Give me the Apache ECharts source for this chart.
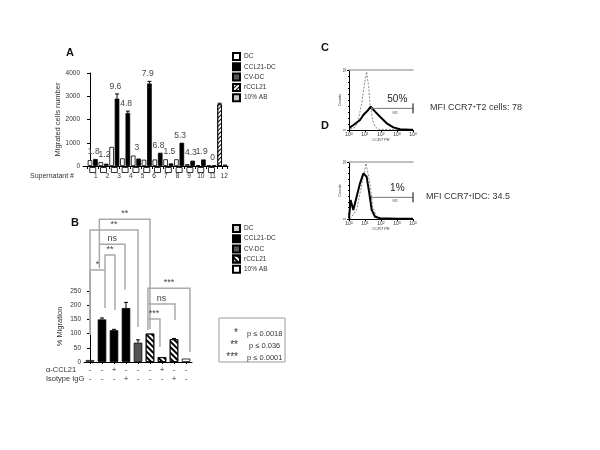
<!DOCTYPE html>
<html><head><meta charset="utf-8">
<script src="https://cdn.jsdelivr.net/npm/echarts@6/dist/echarts.min.js"></script>
<style>html,body{margin:0;padding:0;background:#fff}#c{width:600px;height:450px}</style>
</head><body><div id="c"></div>
<script>
// ---------- Panel A data ----------
const supernatants = ['1','2','3','4','5','6','7','8','9','10','11','12'];
const dcA = [250,170,820,330,450,270,280,290,290,80,30,20];
const ccl21dcA = [300,100,2900,2280,320,3550,570,110,1000,230,280,30];
const ccl21dcErrA = [0,0,200,80,0,90,0,0,0,0,0,0];
const rccl21A = [2650];
const rccl21ErrA = [50];
const abA = [60];
const foldA = ['1.8','1.2','9.6','4.8','3','7.9','6.8','1.5','5.3','4.3','1.9','0'];
const yTicksA = [0,1000,2000,3000,4000];
const legendNames = ['DC','CCL21-DC','CV-DC','rCCL21','10% AB'];

// ---------- Panel B data ----------
const typeB = ['DC','CCL21-DC','CCL21-DC','CCL21-DC','CV-DC','rCCL21','rCCL21','rCCL21','10% AB'];
const migrationB = [7,150,112,190,68,100,17,80,12];
const migrationErrB = [0,5,3,20,10,0,0,3,0];
const antiCCL21 = ['-','-','+','-','-','-','+','-','-'];
const isotypeIgG = ['-','-','-','+','-','-','-','+','-'];
// brackets: [fromBar, toBar, topValue, leftLegBottom, rightLegBottom]
const bracketsB = [
  [0.78,5.0,503,330,115],
  [0.0,4.0,465,95,123],
  [0.78,2.92,415,415,254],
  [1.25,2.08,377,324,183],
  [0.0,1.25,324,95,190],
  [4.83,8.33,260,113,35],
  [4.83,7.08,204,204,148],
  [4.83,5.83,151,151,53]
];
const bracketLabelsB = ['**','**','ns','**','*','***','ns','***'];
const pStars = ['*','**','***'];
const pValues = ['p \u2264 0.0018','p \u2264 0.036','p \u2264 0.0001'];

// ---------- Panels C / D data (fluorescence, counts) ----------
const isoC = [[1.15,0.6],[2.4,2.2],[3.8,8.3],[6.2,22],[8.7,36],[12.6,48.6],[17,36],[20.4,22],[30,8.3],[42.7,2.8],[67.6,0.6],[10000,0.3]];
const ccr7C = [[1.1,2],[1.9,4.2],[4.9,8.3],[7.9,12.5],[15.8,16.7],[22.9,19.4],[42.7,15.3],[87,11.1],[229,5.6],[589,2.2],[1549,0.6],[6310,0.3],[10000,0.2]];
const isoD = [[1.15,0],[3.0,7.9],[4.9,22.5],[7.9,37.1],[11.5,48.9],[14.1,50],[20.4,31.3],[30.2,10.8],[53.7,1.5],[110,0],[10000,0]];
const ccr7D = [[1.0,0.5],[1.26,16.7],[1.86,7.9],[3.0,19.6],[4.9,31.3],[7.9,40],[10,41.5],[12.6,37.1],[18.6,22.5],[26.3,7.9],[42.7,2],[87,0.6],[1000,0.3],[10000,0.2]];
const gateC = [26,10000,18];
const gateD = [26,10000,19];
const pctC = '50%';
const pctD = '1%';

// ---------- build ----------
const F = 'Liberation Sans, Arial, sans-serif';
const TXT = '#333';
const hatchA = {symbol:'rect', symbolSize:1, dashArrayX:[1,0], dashArrayY:[1,1.2], rotation:-Math.PI/4, color:'#000'};
const hatchB = {symbol:'rect', symbolSize:1, dashArrayX:[1,0], dashArrayY:[1.2,1.8], rotation:Math.PI/4, color:'#000'};
const colorsA = {'DC':'#fff','CCL21-DC':'#000','CV-DC':'#555','rCCL21':'#fff','10% AB':'#c8c8c8'};
const colorsB = {'DC':'#d0d0d0','CCL21-DC':'#000','CV-DC':'#555','rCCL21':'#fff','10% AB':'#fff'};

const slotA = {
  'DC': dcA.map((v,i)=>[2*i, v]),
  'CCL21-DC': ccl21dcA.map((v,i)=>[2*i+1, v]),
  'CV-DC': [],
  'rCCL21': rccl21A.map(v=>[24, v]),
  '10% AB': abA.map(v=>[25, v])
};
const errA = [];
ccl21dcA.forEach((v,i)=>{ if (ccl21dcErrA[i]) errA.push([2*i+1, v, ccl21dcErrA[i]]); });
rccl21A.forEach((v,i)=>{ if (rccl21ErrA[i]) errA.push([24, v, rccl21ErrA[i]]); });
const foldData = foldA.map((t,i)=>[2*i+0.5, Math.max(dcA[i], ccl21dcA[i]+ccl21dcErrA[i])]);
const errB = migrationB.map((v,i)=>[i, v, migrationErrB[i]]).filter(d=>d[2]>0);

function errRender(params, api){
  const x = api.value(0), v = api.value(1), e = api.value(2);
  const p0 = api.coord([x, v]), p1 = api.coord([x, v+e]);
  return {type:'group', children:[
    {type:'line', shape:{x1:p0[0],y1:p0[1],x2:p1[0],y2:p1[1]}, style:{stroke:'#000', lineWidth:1}},
    {type:'line', shape:{x1:p1[0]-2,y1:p1[1],x2:p1[0]+2,y2:p1[1]}, style:{stroke:'#000', lineWidth:1}}
  ]};
}

const series = [];
legendNames.forEach(n=>{
  series.push({
    name:n, type:'bar', xAxisIndex:0, yAxisIndex:0, barWidth:4.6, barGap:'-100%',
    data: slotA[n],
    itemStyle:{color:colorsA[n], borderColor:'#000', borderWidth:0.8, decal: n==='rCCL21'?hatchA:null},
    silent:true
  });
});
series.push({type:'custom', xAxisIndex:0, yAxisIndex:0, data:errA, renderItem:errRender, z:5, silent:true});
series.push({type:'custom', xAxisIndex:0, yAxisIndex:0, data:foldData, z:5, silent:true,
  renderItem(params, api){
    const x = api.value(0), top = api.value(1);
    const p = api.coord([x, top]);
    const b = api.coord([x, 0]);
    return {type:'group', children:[
      {type:'text', x:p[0]+1, y:p[1]-3, style:{text:foldA[params.dataIndex], fontSize:8.5, fontFamily:F, fill:'#444', align:'center', verticalAlign:'bottom'}},
      {type:'rect', shape:{x:b[0]-3, y:b[1]+1.5, width:6, height:5}, style:{fill:'#fff', stroke:'#000', lineWidth:0.8}}
    ]};
  }});

legendNames.forEach(n=>{
  series.push({
    name:'B:'+n, type:'bar', xAxisIndex:2, yAxisIndex:2, barWidth:8.5, barGap:'-100%',
    data: migrationB.map((v,i)=> typeB[i]===n ? [i, v] : null).filter(d=>d),
    itemStyle:{color:colorsB[n], borderColor:'#000', borderWidth:0.8, decal: n==='rCCL21'?hatchB:null},
    silent:true
  });
});
series.push({type:'custom', xAxisIndex:2, yAxisIndex:2, data:errB, renderItem:errRender, z:5, silent:true});
series.push({type:'custom', xAxisIndex:2, yAxisIndex:2, data:bracketsB, z:5, silent:true,
  renderItem(params, api){
    const x1=api.value(0), x2=api.value(1), top=api.value(2), lb=api.value(3), rb=api.value(4);
    const a=api.coord([x1,lb]), b=api.coord([x1,top]), c=api.coord([x2,top]), d=api.coord([x2,rb]);
    return {type:'group', children:[
      {type:'polyline', shape:{points:[a,b,c,d]}, style:{stroke:'#aaa', lineWidth:1.5, fill:'none'}},
      {type:'text', x:(b[0]+c[0])/2, y:b[1]-1, style:{text:bracketLabelsB[params.dataIndex], fontSize:9, fontFamily:F, fill:'#444', align:'center', verticalAlign:'bottom'}}
    ]};
  }});

function gateRender(pct){
  return function(params, api){
    const x1=api.value(0), x2=api.value(1), y=api.value(2);
    const a=api.coord([x1,y]), b=api.coord([x2,y]);
    return {type:'group', children:[
      {type:'line', shape:{x1:a[0],y1:a[1],x2:b[0],y2:b[1]}, style:{stroke:'#777', lineWidth:1}},
      {type:'line', shape:{x1:a[0],y1:a[1]-1.5,x2:a[0],y2:a[1]+1.5}, style:{stroke:'#777', lineWidth:1}},
      {type:'line', shape:{x1:b[0],y1:b[1]-5,x2:b[0],y2:b[1]+5}, style:{stroke:'#000', lineWidth:1}},
      {type:'text', x:(a[0]+b[0])/2+3, y:a[1]+2, style:{text:'M1', fontSize:4, fontFamily:F, fill:'#555', align:'center', verticalAlign:'top'}},
      {type:'text', x:(a[0]+b[0])/2+5, y:a[1]-4, style:{text:pct, fontSize:10, fontFamily:F, fill:'#222', align:'center', verticalAlign:'bottom'}}
    ]};
  };
}
series.push({type:'line', xAxisIndex:3, yAxisIndex:3, data:isoC, symbol:'none', lineStyle:{color:'#888', width:1, type:[2,1.5]}, silent:true});
series.push({type:'line', xAxisIndex:3, yAxisIndex:3, data:ccr7C, symbol:'none', lineStyle:{color:'#000', width:2}, silent:true});
series.push({type:'custom', xAxisIndex:3, yAxisIndex:3, data:[gateC], renderItem:gateRender(pctC), z:5, silent:true});
series.push({type:'line', xAxisIndex:5, yAxisIndex:4, data:isoD, symbol:'none', lineStyle:{color:'#888', width:1, type:[2,1.5]}, silent:true});
series.push({type:'line', xAxisIndex:5, yAxisIndex:4, data:ccr7D, symbol:'none', lineStyle:{color:'#000', width:2}, silent:true});
series.push({type:'custom', xAxisIndex:5, yAxisIndex:4, data:[gateD], renderItem:gateRender(pctD), z:5, silent:true});

const axisBlack = {show:true, lineStyle:{color:'#000', width:1}};
const smallLbl = {fontSize:6.5, color:TXT, fontFamily:F};

function logAxis(grid){
  return {type:'log', gridIndex:grid, logBase:10, min:1, max:10000,
    axisLine:axisBlack, axisTick:{show:true, length:2, lineStyle:{color:'#000'}},
    minorTick:{show:true, length:1, splitNumber:5, lineStyle:{color:'#000'}},
    splitLine:{show:false}, minorSplitLine:{show:false},
    axisLabel:{margin:2, fontSize:5, color:TXT, fontFamily:F,
      formatter:v=>'10{s|'+Math.round(Math.log10(v))+'}',
      rich:{s:{fontSize:3.5, verticalAlign:'top', color:TXT}}},
    name:'CCR7 PE', nameLocation:'middle', nameGap:8, nameTextStyle:{fontSize:4, color:TXT, fontFamily:F}};
}
function topLine(grid){
  return {type:'value', gridIndex:grid, position:'top', min:0, max:1,
    axisLine:{show:true, lineStyle:{color:'#aaa', width:1.5}}, axisTick:{show:false}, axisLabel:{show:false}, splitLine:{show:false}};
}
function countAxis(grid){
  return {type:'value', gridIndex:grid, min:0, max:50, interval:50,
    axisLine:axisBlack, axisTick:{show:true, length:2, lineStyle:{color:'#000'}},
    minorTick:{show:true, length:1, splitNumber:10, lineStyle:{color:'#000'}},
    splitLine:{show:false},
    axisLabel:{margin:2, fontSize:4, rotate:90, color:TXT, fontFamily:F},
    name:'Counts', nameLocation:'middle', nameGap:5, nameTextStyle:{fontSize:4, color:TXT, fontFamily:F}};
}

const option = {
  animation:false,
  backgroundColor:'#fff',
  textStyle:{fontFamily:F},
  grid:[
    {left:83, top:73, width:145, height:93},
    {left:90, top:170, width:140, height:2},
    {left:84, top:291, width:108, height:71},
    {left:349, top:70, width:64, height:60},
    {left:349, top:162, width:64, height:57}
  ],
  xAxis:[
    {type:'value', gridIndex:0, min:-1.3, max:25.55, axisLine:axisBlack,
      axisTick:{show:true, length:3, customValues:Array.from({length:27},(_,i)=>i-0.5), lineStyle:{color:'#000'}},
      axisLabel:{show:false}, splitLine:{show:false}},
    {type:'category', gridIndex:1, data:supernatants, axisLine:{show:false}, axisTick:{show:false},
      axisLabel:{fontSize:6.5, color:TXT, fontFamily:F, margin:1}},
    {type:'value', gridIndex:2, min:-0.5, max:8.5, axisLine:axisBlack,
      axisTick:{show:true, length:2, customValues:migrationB.map((v,i)=>i), lineStyle:{color:'#000'}},
      splitLine:{show:false},
      axisLabel:{customValues:migrationB.map((v,i)=>i), fontSize:8, lineHeight:9, margin:3, color:TXT, fontFamily:F,
        formatter:(v)=>antiCCL21[Math.round(v)]+'\n'+isotypeIgG[Math.round(v)]}},
    logAxis(3), topLine(3), logAxis(4), topLine(4)
  ],
  yAxis:[
    {type:'value', gridIndex:0, min:0, max:4000, interval:1000, axisLine:axisBlack,
      axisTick:{show:true, length:3, lineStyle:{color:'#000'}}, splitLine:{show:false},
      axisLabel:Object.assign({margin:3, customValues:yTicksA, formatter:v=>String(v)}, smallLbl),
      name:'Migrated cells number', nameLocation:'middle', nameGap:18,
      nameTextStyle:{fontSize:7.5, color:TXT, fontFamily:F}},
    {type:'value', gridIndex:1, show:false},
    {type:'value', gridIndex:2, min:0, max:250, interval:50, axisLine:axisBlack,
      axisTick:{show:true, length:3, lineStyle:{color:'#000'}}, splitLine:{show:false},
      axisLabel:Object.assign({margin:3}, smallLbl),
      name:'% Migration', nameLocation:'middle', nameGap:20,
      nameTextStyle:{fontSize:7.5, color:TXT, fontFamily:F}},
    countAxis(3), countAxis(4)
  ],
  legend:[
    {data:legendNames, left:227, top:47, orient:'vertical', icon:'rect', itemWidth:7, itemHeight:7, itemGap:1.3,
      selectedMode:false, textStyle:{fontSize:6.5, lineHeight:7, color:TXT, fontFamily:F, padding:[0,0,0,-1]}},
    {data:legendNames.map(n=>'B:'+n), formatter:n=>n.slice(2), left:227, top:219, orient:'vertical', icon:'rect',
      itemWidth:7, itemHeight:7, itemGap:1.2, selectedMode:false,
      textStyle:{fontSize:6.5, lineHeight:7, color:TXT, fontFamily:F, padding:[0,0,0,-1]}}
  ],
  graphic:[
    {type:'text', left:66, top:47, style:{text:'A', fontSize:11, fontWeight:'bold', fill:'#111', fontFamily:F}},
    {type:'text', left:71, top:217, style:{text:'B', fontSize:11, fontWeight:'bold', fill:'#111', fontFamily:F}},
    {type:'text', left:321, top:42, style:{text:'C', fontSize:11, fontWeight:'bold', fill:'#111', fontFamily:F}},
    {type:'text', left:321, top:120, style:{text:'D', fontSize:11, fontWeight:'bold', fill:'#111', fontFamily:F}},
    {type:'text', x:30, y:176, style:{text:'Supernatant #', fontSize:7, fill:TXT, fontFamily:F, verticalAlign:'middle'}},
    {type:'text', x:46, y:370, style:{text:'\u03b1-CCL21', fontSize:7.5, fill:TXT, fontFamily:F, verticalAlign:'middle'}},
    {type:'text', x:46, y:379, style:{text:'Isotype IgG', fontSize:7.5, fill:TXT, fontFamily:F, verticalAlign:'middle'}},
    {type:'rect', shape:{x:219, y:318, width:66, height:44}, style:{fill:'#fff', stroke:'#999', lineWidth:1}},
    {type:'text', x:238, y:333, style:{text:pStars[0], fontSize:10, fill:TXT, fontFamily:F, align:'right', verticalAlign:'middle'}},
    {type:'text', x:238, y:345, style:{text:pStars[1], fontSize:10, fill:TXT, fontFamily:F, align:'right', verticalAlign:'middle'}},
    {type:'text', x:238, y:357, style:{text:pStars[2], fontSize:10, fill:TXT, fontFamily:F, align:'right', verticalAlign:'middle'}},
    {type:'text', x:247, y:334, style:{text:pValues[0], fontSize:7.5, fill:TXT, fontFamily:F, verticalAlign:'middle'}},
    {type:'text', x:249, y:346, style:{text:pValues[1], fontSize:7.5, fill:TXT, fontFamily:F, verticalAlign:'middle'}},
    {type:'text', x:247, y:358, style:{text:pValues[2], fontSize:7.5, fill:TXT, fontFamily:F, verticalAlign:'middle'}},
    {type:'text', x:430, y:108, style:{text:'MFI CCR7{s|+}T2 cells: 78', fontSize:9, fill:TXT, fontFamily:F, verticalAlign:'middle',
      rich:{s:{fontSize:6, verticalAlign:'top', fill:TXT}}}},
    {type:'text', x:426, y:197, style:{text:'MFI CCR7{s|+}IDC: 34.5', fontSize:9, fill:TXT, fontFamily:F, verticalAlign:'middle',
      rich:{s:{fontSize:6, verticalAlign:'top', fill:TXT}}}}
  ],
  series: series
};
const chart = echarts.init(document.getElementById('c'));
chart.setOption(option);
</script>
</body></html>
